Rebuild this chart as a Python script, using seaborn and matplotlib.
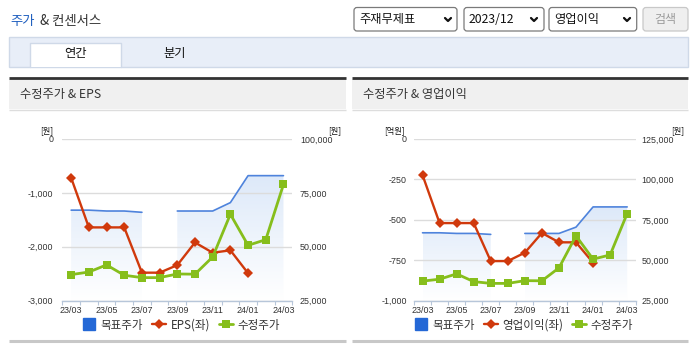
import numpy as np
import pandas as pd
import matplotlib
matplotlib.use("Agg")
import matplotlib.pyplot as plt
import seaborn as sns
from matplotlib.patches import Rectangle, FancyBboxPatch
from matplotlib.lines import Line2D
from matplotlib.colors import LinearSegmentedColormap

# ---- data -------------------------------------------------------------
months = ["23/03", "23/04", "23/05", "23/06", "23/07", "23/08", "23/09",
          "23/10", "23/11", "23/12", "24/01", "24/02", "24/03"]
target_price = [67000, 67000, 66600, 66600, 66000, np.nan, 66600,
                66600, 66600, 70500, 83000, 83000, 83000]
adj_price = [37100, 38300, 41600, 36800, 35700, 35700, 37400,
             37300, 45300, 65100, 50700, 53300, 78900]
eps = [-720, -1640, -1640, -1640, -2480, -2480, -2340,
       -1920, -2110, -2065, -2490, np.nan, np.nan]
op_income = [-223, -520, -520, -520, -755, -755, -703,
             -581, -639, -639, -765, np.nan, np.nan]

eps_ticks = [0, -1000, -2000, -3000]
op_ticks = [0, -250, -500, -750, -1000]
price_ticks_eps = [25000, 50000, 75000, 100000]
price_ticks_op = [25000, 50000, 75000, 100000, 125000]

# ---- style ------------------------------------------------------------
sns.set_style("white")
plt.rcParams["font.family"] = ["Noto Sans CJK KR", "DejaVu Sans"]

RED = "#d0390c"
GREEN = "#86be1c"
BLUE_LINE = "#4e83dc"
BLUE_KEY = "#2468d6"
TXT = "#333333"
NUM_FONT = "Liberation Sans"

W, H = 695, 349
fig = plt.figure(figsize=(W / 100, H / 100), dpi=100)
fig.patch.set_facecolor("white")

# page furniture drawn in pixel coordinates
bg = fig.add_axes([0, 0, 1, 1])
bg.set_xlim(0, W)
bg.set_ylim(H, 0)
bg.axis("off")


def box(x0, y0, x1, y1, fc, ec="none", lw=1.0, r=0.0, z=1):
    if r > 0:
        p = FancyBboxPatch((x0, y0), x1 - x0, y1 - y0,
                           boxstyle=f"round,pad=0,rounding_size={r}",
                           fc=fc, ec=ec, lw=lw, zorder=z)
    else:
        p = Rectangle((x0, y0), x1 - x0, y1 - y0, fc=fc, ec=ec, lw=lw, zorder=z)
    bg.add_patch(p)


def hline(x0, x1, y, color, lw):
    bg.add_line(Line2D([x0, x1], [y, y], color=color, lw=lw, zorder=3,
                       solid_capstyle="butt"))


# title
bg.text(10, 21, "주가", color="#1f5fbf", fontsize=9.6, va="center", ha="left")
bg.text(40, 21, "& 컨센서스", color=TXT, fontsize=9.6, va="center", ha="left")

# selectors
for (x0, x1, label, chev) in [(354, 457, "주재무제표", 448),
                              (464, 544, "2023/12", 534),
                              (549, 636.7, "영업이익", 627)]:
    box(x0, 7.5, x1, 31, "white", "#7a7a7a", 0.9, r=3)
    bg.text(x0 + 5, 19.5, label, fontsize=8.8, color="#111111",
            va="center", ha="left")
    bg.add_line(Line2D([chev - 3, chev, chev + 3], [18, 21, 18],
                       color="#111111", lw=1.6, zorder=4))
box(643, 7.5, 688, 31, "#efefef", "#c8c8c8", 0.9, r=3)
bg.text(665.5, 19.5, "검색", fontsize=8.6, color="#9a9a9a",
        va="center", ha="center")

# tab bar
box(9, 37, 688, 66.5, "#e8eef8", "#cfd9e8", 1.0)
box(29.5, 42.5, 120.5, 67.2, "white", "none")
bg.add_line(Line2D([29.5, 29.5, 120.5, 120.5], [67, 42.5, 42.5, 67],
                   color="#cfd9e8", lw=1.0, zorder=3))
bg.text(75, 53.5, "연간", fontsize=8.8, color="#111111", va="center", ha="center")
bg.text(175, 53.5, "분기", fontsize=8.8, color="#111111", va="center", ha="center")

# ---- chart panels -----------------------------------------------------
cmap = LinearSegmentedColormap.from_list("fade", ["#ffffff", "#dde9f9"])
grad = np.linspace(0, 1, 256).reshape(-1, 1)

df = pd.DataFrame({"x": np.arange(len(months)), "month": months,
                   "target": target_price, "price": adj_price,
                   "eps": eps, "op": op_income})
target_top = df["target"].max()


def fr(x0, y0, x1, y1):
    return [x0 / W, 1 - y1 / H, (x1 - x0) / W, (y1 - y0) / H]


def panel(px0, px1, title, ax_px, left_col, left_ticks, left_unit,
          right_ticks, series_name, left_pad, right_pad, legend_cx):
    # header strip
    hline(px0, px1, 77.5, "#333333", 2.0)
    box(px0, 78.5, px1, 109.3, "#f0f0f0", "none")
    hline(px0, px1, 109.5, "#dddddd", 1.0)
    bg.text(px0 + 11, 94.5, title, fontsize=8.8, color=TXT, va="center", ha="left")
    hline(px0, px1, 340.5, "#c8c8c8", 2.2)

    x0, y0, x1, y1 = ax_px
    ax_bg = fig.add_axes(fr(x0, y0, x1, y1))
    ax_e = ax_bg.twinx()
    ax_p = ax_bg.twinx()

    r_lo, r_hi = right_ticks[0], right_ticks[-1]

    # target-price band: gradient clipped under each continuous segment
    valid = df["target"].notna()
    seg_id = (~valid).cumsum()
    for _, seg in df[valid].groupby(seg_id[valid]):
        poly = ax_bg.fill_between(seg["x"], seg["target"], r_lo,
                                  facecolor="none", edgecolor="none")
        im = ax_bg.imshow(grad, extent=[seg["x"].min(), seg["x"].max(),
                                        r_lo, target_top],
                          aspect="auto", cmap=cmap, origin="lower",
                          zorder=0.5, interpolation="bilinear")
        im.set_clip_path(poly.get_paths()[0], transform=ax_bg.transData)
        sns.lineplot(data=seg, x="x", y="target", ax=ax_bg, color=BLUE_LINE,
                     lw=1.2, legend=False, errorbar=None, sort=False)

    sns.lineplot(data=df, x="x", y=left_col, ax=ax_e, color=RED, lw=1.7,
                 marker="D", markersize=5.3, markeredgewidth=0,
                 legend=False, errorbar=None, sort=False)
    sns.lineplot(data=df, x="x", y="price", ax=ax_p, color=GREEN, lw=2.0,
                 marker="s", markersize=6.2, markeredgewidth=0,
                 legend=False, errorbar=None, sort=False)

    for a in (ax_bg, ax_e, ax_p):
        a.set_xlabel("")
        a.set_ylabel("")
        for s in a.spines.values():
            s.set_visible(False)
    ax_bg.patch.set_visible(False)

    ax_bg.set_xlim(-0.5, len(months) - 0.5)
    ax_bg.set_ylim(r_lo, r_hi)
    ax_p.set_ylim(r_lo, r_hi)
    ax_e.set_ylim(left_ticks[-1], left_ticks[0])

    # right axis: price
    ax_bg.yaxis.tick_right()
    ax_bg.set_yticks(right_ticks)
    ax_bg.set_yticklabels([f"{v:,}" for v in right_ticks],
                          fontfamily=NUM_FONT, fontsize=6.4, color=TXT)
    ax_bg.tick_params(axis="y", length=0, pad=right_pad)
    ax_bg.grid(axis="y", color="#dcdcdc", lw=1.0)
    ax_bg.grid(axis="x", visible=False)

    # left axis: earnings
    ax_e.yaxis.tick_left()
    ax_e.set_yticks(left_ticks)
    ax_e.set_yticklabels([f"{v:,}" for v in left_ticks],
                         fontfamily=NUM_FONT, fontsize=6.4, color=TXT)
    ax_e.tick_params(axis="y", length=0, pad=left_pad)
    ax_e.grid(False)
    ax_p.yaxis.set_visible(False)
    ax_p.grid(False)

    # category axis
    ax_bg.spines["bottom"].set_visible(True)
    ax_bg.spines["bottom"].set_color("#b7c6d9")
    ax_bg.spines["bottom"].set_linewidth(1.0)
    ax_bg.set_xticks(df["x"][::2])
    ax_bg.set_xticklabels(df["month"][::2], fontfamily=NUM_FONT,
                          fontsize=6.4, color=TXT)
    ax_bg.set_xticks(np.arange(-0.5, len(months)), minor=True)
    ax_bg.tick_params(axis="x", which="major", length=0, pad=3.5)
    ax_bg.tick_params(axis="x", which="minor", length=3, width=0.8,
                      color="#b7c6d9", bottom=True)

    # unit labels
    bg.text(x0 - 9, 131, left_unit, fontsize=5.9, color="#111111",
            ha="right", va="center")
    bg.text(px1 - 4.5, 131, "[원]", fontsize=5.9, color="#111111",
            ha="right", va="center")

    handles = [
        Line2D([], [], ls="none", marker="s", markersize=8.3, color=BLUE_KEY),
        Line2D([], [], color=RED, lw=1.7, marker="D", markersize=4.8,
               markeredgewidth=0),
        Line2D([], [], color=GREEN, lw=2.0, marker="s", markersize=6.2,
               markeredgewidth=0),
    ]
    ax_p.legend(handles, ["목표주가", series_name, "수정주가"], ncol=3,
                loc="center", bbox_to_anchor=(legend_cx / W, 1 - 325 / H),
                bbox_transform=fig.transFigure, frameon=False, fontsize=8.3,
                handlelength=1.2, handletextpad=0.4, columnspacing=0.8,
                labelcolor=TXT)


panel(9, 346, "수정주가 & EPS", (62.3, 139, 292.3, 300.7), "eps",
      eps_ticks, "[원]", price_ticks_eps, "EPS(좌)",
      left_pad=6.5, right_pad=5.5, legend_cx=181)
panel(352.3, 688.3, "수정주가 & 영업이익", (414, 139, 635.7, 300.7), "op",
      op_ticks, "[억원]", price_ticks_op, "영업이익(좌)",
      left_pad=5, right_pad=4.3, legend_cx=523.5)

fig.savefig("out.png", dpi=100)
